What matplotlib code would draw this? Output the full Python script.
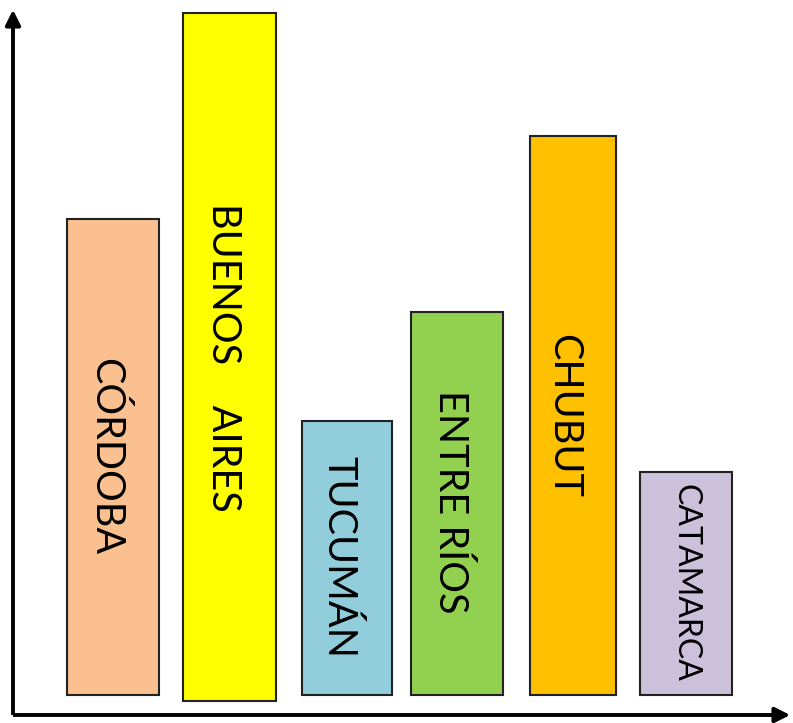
import matplotlib.pyplot as plt

# provinces and bar values (top of each bar above the x axis)
provinces = ["CÓRDOBA", "BUENOS    AIRES", "TUCUMÁN", "ENTRE RÍOS", "CHUBUT", "CATAMARCA"]
values = [496, 702, 294, 403, 579, 243]
bases = [20, 14, 20, 20, 20, 20]
colors = ["#FAC090", "#FFFF00", "#92CDDC", "#92D050", "#FFC000", "#CCC1DA"]

# layout
lefts = [67, 183, 302, 411, 530, 640]
widths = [92, 93, 90, 92, 86, 92]
label_x = [106, 223, 339, 451, 564, 686]
label_y = [258, 358, 158, 213, 299, 132]
label_size = [28.5, 28.5, 28.5, 28.5, 28.5, 23]

fig = plt.figure(figsize=(7.93, 7.23), dpi=100)
ax = fig.add_axes([0, 0, 1, 1])
ax.set_xlim(0, 793)
ax.set_ylim(-8, 715)
ax.axis('off')

for i in range(len(provinces)):
    ax.bar(lefts[i], values[i] - bases[i], width=widths[i], bottom=bases[i],
           align='edge', color=colors[i], edgecolor='#222222', linewidth=1.5)
    ax.text(label_x[i], label_y[i], provinces[i], rotation=270,
            ha='center', va='center', fontsize=label_size[i], family='Lato')

# axes with arrows
ax.plot([13, 13], [0, 695], color='black', lw=2.8, solid_capstyle='butt')
ax.plot([13, 775], [0, 0], color='black', lw=2.8, solid_capstyle='butt')
ax.annotate('', xy=(13, 708), xytext=(13, 680),
            arrowprops=dict(arrowstyle='-|>,head_width=0.45,head_length=0.9', color='black', lw=2.8))
ax.annotate('', xy=(793, 0), xytext=(765, 0),
            arrowprops=dict(arrowstyle='-|>,head_width=0.45,head_length=0.9', color='black', lw=2.8))

fig.savefig('out.png', dpi=100)
